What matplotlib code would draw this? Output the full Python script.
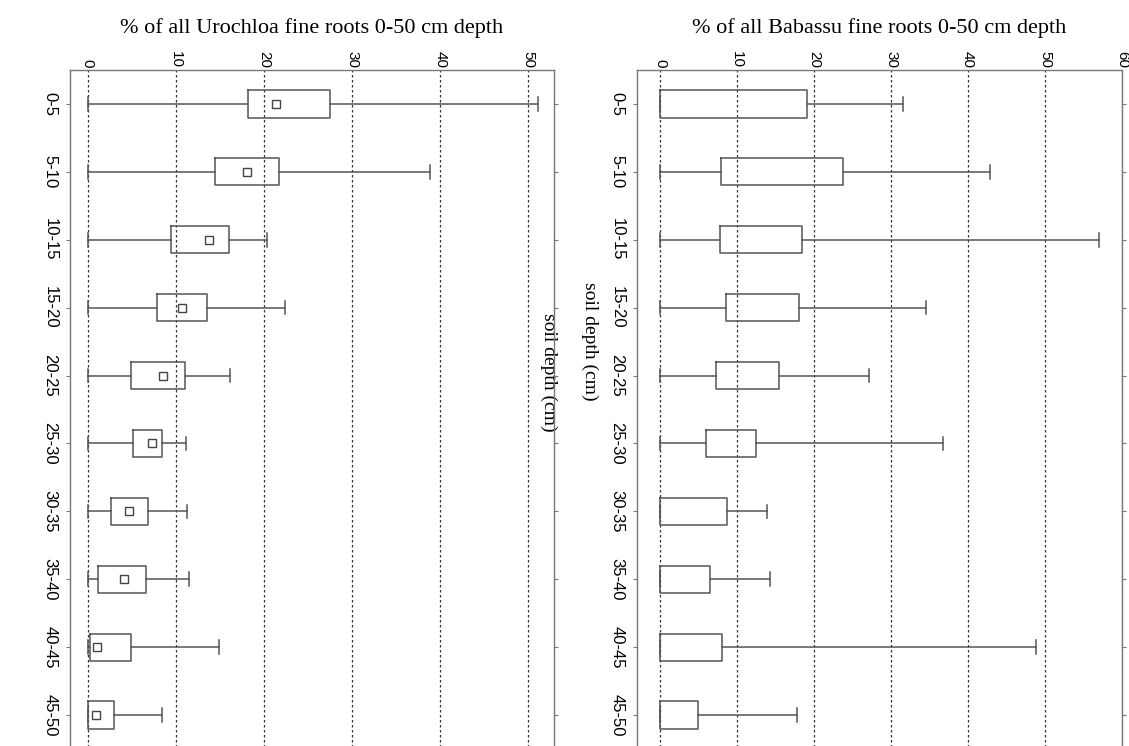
import matplotlib
matplotlib.use("Agg")
import matplotlib.pyplot as plt

# soil depth classes (cm)
depths = ["0-5", "5-10", "10-15", "15-20", "20-25", "25-30",
          "30-35", "35-40", "40-45", "45-50"]

# Urochloa: % of fine roots, box stats
uro_low = [0, 0, 0, 0, 0, 0, 0, 0, 0, 0]
uro_q1 = [18.2, 14.5, 9.4, 7.9, 4.9, 5.1, 2.7, 1.2, 0.3, 0.0]
uro_q3 = [27.5, 21.7, 16.0, 13.5, 11.0, 8.45, 6.9, 6.6, 4.9, 3.0]
uro_mean = [21.4, 18.1, 13.75, 10.7, 8.5, 7.3, 4.7, 4.1, 1.1, 0.9]
uro_high = [51.1, 38.8, 20.3, 22.4, 16.1, 11.2, 11.3, 11.45, 14.85, 8.4]

# Babassu: % of fine roots
bab_low = [0, 0, 0, 0, 0, 0, 0, 0, 0, 0]
bab_q1 = [0.0, 7.9, 7.8, 8.5, 7.2, 6.0, 0.0, 0.0, 0.0, 0.0]
bab_q3 = [19.1, 23.7, 18.4, 18.1, 15.5, 12.5, 8.7, 6.5, 8.1, 4.9]
bab_high = [31.6, 42.9, 57.0, 34.6, 27.1, 36.8, 13.9, 14.3, 48.8, 17.8]

uro_ticks = [0, 10, 20, 30, 40, 50]
bab_ticks = [0, 10, 20, 30, 40, 50, 60]

SERIF = "Liberation Serif"
SANS = "Liberation Sans"
EDGE = "#555555"


def stats(low, q1, q3, high, mean=None):
    out = []
    for i in range(len(low)):
        s = dict(whislo=low[i], q1=q1[i], med=q1[i], q3=q3[i], whishi=high[i], fliers=[])
        if mean is not None:
            s["mean"] = mean[i]
        out.append(s)
    return out


def draw_panel(ax, st, ticks, xlim, title, show_means, label_xy):
    pos = list(range(len(depths)))
    ax.bxp(st, positions=pos, vert=False, widths=0.4, capwidths=0.2,
           showmeans=show_means, showfliers=False,
           boxprops=dict(color=EDGE, lw=1.1),
           whiskerprops=dict(color=EDGE, lw=1.1),
           capprops=dict(color=EDGE, lw=1.1),
           medianprops=dict(lw=0),
           meanprops=dict(marker="s", markersize=5.5, markerfacecolor="white",
                          markeredgecolor="#444444", markeredgewidth=1.0))
    ax.set_xlim(*xlim)
    ax.set_ylim(len(depths) - 0.5, -0.5)
    ax.set_xticks(ticks)
    ax.set_yticks(pos)
    ax.set_yticklabels(depths)
    ax.xaxis.set_ticks_position("top")
    ax.xaxis.set_label_position("top")
    ax.tick_params(axis="x", length=0, pad=1.5, labelsize=11, labelrotation=-90)
    ax.tick_params(axis="y", length=3, color="#777777", left=True, right=True,
                   pad=6, labelsize=12)
    for lab in ax.get_xticklabels():
        lab.set_fontfamily(SANS)
        lab.set_va("bottom")
        lab.set_ha("center")
    for lab in ax.get_yticklabels():
        lab.set_fontfamily(SANS)
        lab.set_rotation(-90)
        lab.set_va("center")
        lab.set_ha("right")
    ax.grid(axis="x", linestyle=(0, (2, 2)), color="#333333", lw=0.9)
    ax.set_axisbelow(True)
    for s in ax.spines.values():
        s.set_color("#777777")
        s.set_linewidth(1.0)
    ax.set_xlabel(title, fontfamily=SERIF, fontsize=16, labelpad=13)
    ax.set_ylabel("soil depth (cm)", fontfamily=SERIF, fontsize=14, rotation=-90,
                  va="center", ha="center")
    ax.yaxis.set_label_coords(*label_xy)


fig = plt.figure(figsize=(11.29, 7.46), dpi=100)
W, H = 1129.0, 746.0
ax1 = fig.add_axes([70 / W, -3 / H, 484 / W, 679 / H])
ax2 = fig.add_axes([637 / W, -3 / H, 485 / W, 679 / H])

draw_panel(ax1, stats(uro_low, uro_q1, uro_q3, uro_high, uro_mean), uro_ticks,
           (-2.0, 52.9), "% of all Urochloa fine roots 0-50 cm depth", True,
           (0.988, 0.555))
draw_panel(ax2, stats(bab_low, bab_q1, bab_q3, bab_high), bab_ticks,
           (-3.0, 60.0), "% of all Babassu fine roots 0-50 cm depth", False,
           (-0.097, 0.60))

fig.savefig("out.png", dpi=100, facecolor="white")
